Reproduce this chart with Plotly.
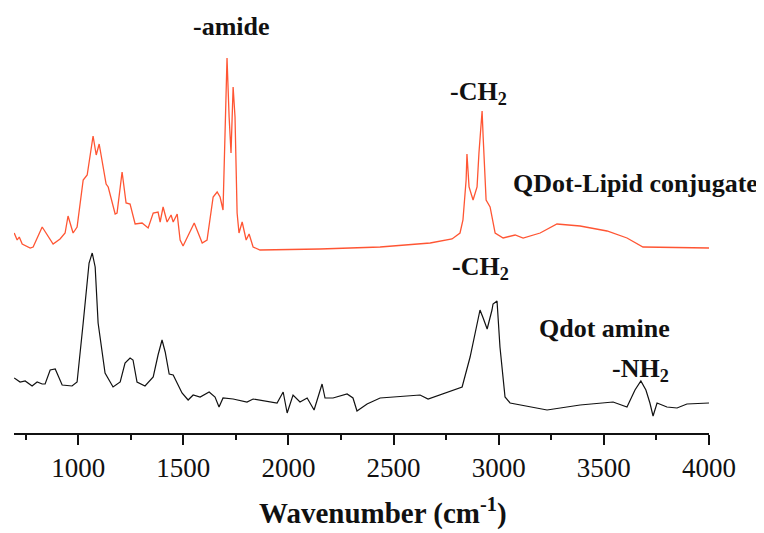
import plotly.graph_objects as go

# QDot-Lipid conjugate (orange)
lipid_wn = [696, 710, 720, 734, 772, 786, 829, 881, 914, 938,
            952, 976, 995, 1024, 1043, 1071, 1086, 1100, 1133, 1143,
            1176, 1185, 1209, 1228, 1247, 1271, 1304, 1333, 1357, 1380,
            1390, 1404, 1423, 1442, 1452, 1471, 1485, 1499, 1552, 1590,
            1613, 1642, 1661, 1675, 1689, 1694, 1708, 1718, 1727, 1737,
            1746, 1756, 1765, 1780, 1799, 1813, 1832, 1865, 2150, 2436,
            2674, 2778, 2816, 2830, 2845, 2849, 2859, 2878, 2897, 2906,
            2921, 2926, 2940, 2959, 2983, 3021, 3078, 3116, 3197, 3277,
            3387, 3515, 3610, 3686, 4000]
lipid_int = [200, 193, 196, 189, 185, 186, 206, 189, 194, 200,
             217, 200, 206, 253, 258, 297, 278, 289, 249, 246,
             219, 220, 261, 230, 229, 209, 210, 205, 220, 221,
             211, 226, 211, 218, 211, 219, 193, 187, 210, 190,
             193, 236, 241, 236, 223, 266, 375, 316, 280, 346,
             316, 220, 200, 211, 193, 199, 186, 183, 184, 186,
             190, 194, 200, 213, 253, 279, 246, 233, 246, 280,
             322, 296, 233, 226, 200, 195, 198, 195, 200, 209,
             207, 202, 195, 186, 185]

# Qdot amine (black)
amine_wn = [696, 724, 748, 781, 805, 829, 843, 867, 891, 924,
            971, 995, 1024, 1052, 1067, 1081, 1095, 1128, 1166, 1200,
            1223, 1247, 1261, 1280, 1318, 1357, 1380, 1399, 1414, 1433,
            1452, 1471, 1494, 1523, 1547, 1580, 1623, 1651, 1670, 1689,
            1737, 1803, 1832, 1946, 1975, 1994, 2022, 2055, 2089, 2122,
            2141, 2160, 2174, 2212, 2279, 2307, 2326, 2374, 2436, 2626,
            2664, 2721, 2826, 2864, 2897, 2911, 2926, 2945, 2968, 2973,
            2992, 3006, 3030, 3054, 3230, 3387, 3544, 3610, 3648, 3676,
            3700, 3719, 3734, 3753, 3800, 3848, 3895, 4000]
amine_int = [55, 51, 52, 47, 51, 49, 49, 63, 64, 48,
             47, 51, 110, 170, 180, 166, 110, 60, 46, 51,
             70, 75, 73, 51, 47, 56, 78, 93, 81, 59,
             58, 50, 40, 33, 38, 36, 41, 36, 26, 35,
             34, 31, 34, 30, 41, 20, 38, 31, 35, 23,
             36, 49, 35, 35, 39, 35, 22, 29, 35, 38,
             34, 38, 46, 76, 110, 123, 115, 104, 123, 129,
             132, 86, 36, 30, 23, 28, 31, 26, 43, 52,
             43, 30, 17, 30, 26, 25, 29, 30]

tick_vals = [1000, 1500, 2000, 2500, 3000, 3500, 4000]
tick_text = ["1000", "1500", "2000", "2500", "3000", "3500", "4000"]

labels = [
    ("-amide", 1727, 407),
    ("-CH<sub>2</sub>", 2902, 340),
    ("QDot-Lipid conjugate", 3652, 250),
    ("-CH<sub>2</sub>", 2911, 165),
    ("Qdot amine", 3501, 105),
    ("-NH<sub>2</sub>", 3672, 63),
]
x_title = "Wavenumber (cm<sup>-1</sup>)"

FONT = "Liberation Serif"

fig = go.Figure()
fig.add_trace(go.Scatter(x=lipid_wn, y=lipid_int, mode="lines",
                         line=dict(color="#FF5533", width=1.3),
                         name="QDot-Lipid conjugate", showlegend=False))
fig.add_trace(go.Scatter(x=amine_wn, y=amine_int, mode="lines",
                         line=dict(color="#111111", width=1.2),
                         name="Qdot amine", showlegend=False))

for text, x, y in labels:
    fig.add_annotation(x=x, y=y, text="<b>" + text + "</b>", showarrow=False,
                       xanchor="center", yanchor="middle",
                       font=dict(family=FONT, size=26, color="#111111"))

# axis title, placed slightly right of centre as in the original
fig.add_annotation(x=0.531, y=-0.233, xref="paper", yref="paper",
                   text="<b>" + x_title + "</b>", showarrow=False,
                   xanchor="center", yanchor="bottom",
                   font=dict(family=FONT, size=29, color="#111111"))

fig.update_layout(
    width=756, height=525,
    margin=dict(l=6, r=55, t=0, b=100),
    paper_bgcolor="white", plot_bgcolor="white",
    font=dict(family=FONT, color="#111111"),
    xaxis=dict(
        range=[695, 4000], showgrid=False, zeroline=False,
        showline=True, linecolor="#111111", linewidth=2,
        tickmode="array", tickvals=tick_vals, ticktext=tick_text,
        ticks="outside", ticklen=10, tickwidth=2, tickcolor="#111111",
        tickfont=dict(family=FONT, size=27, color="#111111"),
        minor=dict(dtick=250, tick0=750, ticks="outside", ticklen=5,
                   tickwidth=2, tickcolor="#111111"),
    ),
    yaxis=dict(range=[0, 425], visible=False),
)

fig.write_html("out.html")
